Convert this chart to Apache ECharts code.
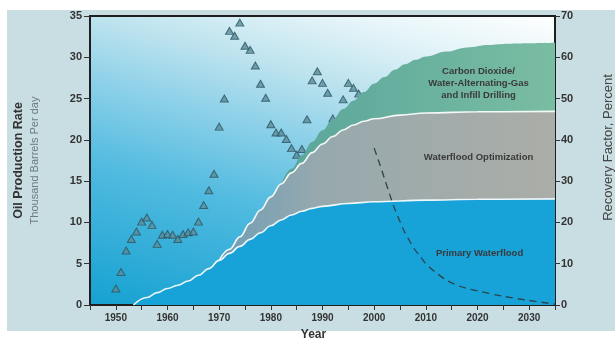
<!DOCTYPE html>
<html><head><meta charset="utf-8">
<script src="https://cdn.jsdelivr.net/npm/echarts@6/dist/echarts.min.js"></script>
<style>html,body{margin:0;padding:0;background:#ffffff;}#c{width:615px;height:343px;}</style>
</head><body><div id="c"></div>
<script>
// Oil production (thousand barrels per day) – triangles
const prodYears = [1950,1951,1952,1953,1954,1955,1956,1957,1958,1959,1960,1961,1962,1963,1964,1965,1966,1967,1968,1969,1970,1971,1972,1973,1974,1975,1976,1977,1978,1979,1980,1981,1982,1983,1984,1985,1986,1987,1988,1989,1990,1991,1992,1993,1994,1995,1996,1997,1998,1999,2000];
const prodRate  = [2.0,4.0,6.6,8.0,8.9,10.1,10.6,9.7,7.4,8.5,8.6,8.5,8.0,8.6,8.8,8.9,10.1,12.1,13.9,15.9,21.6,25.0,33.2,32.6,34.2,31.4,30.9,29.0,26.8,25.1,21.9,20.9,20.9,20.1,19.0,18.2,18.9,22.5,27.2,28.3,26.9,25.7,22.6,19.7,24.9,26.9,26.3,25.6,23.1,20.9,19.0];
// Forecast decline (dashed)
const declineYears = [2000,2001,2002,2003,2004,2005,2006,2007,2008,2009,2010,2012,2014,2016,2018,2020,2025,2030,2035];
const declineRate  = [19.0,17.2,15.3,13.4,11.6,10.1,8.7,7.6,6.6,5.8,5.0,3.9,3.0,2.4,2.0,1.7,1.05,0.55,0.1];
// Recovery factor (percent) – cumulative tops of the areas
const primaryYears = [1953.4,1956,1958,1960,1962,1964,1966,1968,1970,1972,1974,1976,1978,1980,1982,1984,1986,1988,1990,1995,2000,2010,2020,2035];
const primaryRF    = [0,1.8,3.0,4.0,4.8,5.8,7.2,8.8,10.8,12.5,14.2,15.9,17.5,19.2,20.6,21.8,22.7,23.4,23.9,24.6,25.0,25.4,25.6,25.7];
const optYears = [1970,1972,1974,1976,1978,1980,1982,1984,1986,1988,1990,1992,1994,1996,1998,2000,2005,2010,2020,2035];
const optRF    = [10.8,13.5,16.5,19.8,23.0,26.2,29.3,32.0,34.3,36.9,39.0,40.8,42.4,43.6,44.5,45.1,46.0,46.5,46.8,46.9];
const co2Years = [1982,1984,1986,1988,1990,1992,1994,1996,1998,2000,2002,2004,2006,2008,2010,2014,2018,2022,2026,2030,2035];
const co2RF    = [29.3,33.0,36.3,39.5,42.3,45.0,47.5,49.5,51.6,53.6,55.2,57.0,58.3,59.4,60.2,61.4,62.4,63.0,63.3,63.4,63.5];
const xTickLabels = ['1950','1960','1970','1980','1990','2000','2010','2020','2030'];
const leftTicks = [0,5,10,15,20,25,30,35];
const rightTicks = [0,10,20,30,40,50,60,70];
const areaLabels = ['Carbon Dioxide/\nWater-Alternating-Gas\nand Infill Drilling','Waterflood Optimization','Primary Waterflood'];

const zip = (a,b) => a.map((v,i)=>[v,b[i]]);
const F = 'Liberation Sans, Arial, sans-serif';
const chart = echarts.init(document.getElementById('c'), null, {renderer:'canvas'});
const lbl = (txt, coord) => ({
  symbol:'circle', symbolSize:1, itemStyle:{color:'rgba(0,0,0,0)'}, silent:true,
  label:{show:true, position:'inside', formatter:txt, color:'#3a3a3a', fontFamily:F, fontWeight:'bold', fontSize:9.5, lineHeight:12, align:'center'},
  data:[{coord:coord}]
});
chart.setOption({
  animation:false,
  backgroundColor:'#ffffff',
  graphic:[{type:'rect', z:-10, shape:{x:7,y:10,width:608,height:321}, style:{fill:'#c8dee2'}}],
  grid:{left:90,right:60,top:16,bottom:38,outerBoundsMode:'none',containLabel:false,show:true,borderColor:'#1e1e1e',borderWidth:2,
    backgroundColor:{type:'linear',x:0,y:1,x2:0.22,y2:-0.33,colorStops:[
      {offset:0,color:'#15a1d1'},{offset:0.35,color:'#52bbe0'},{offset:0.55,color:'#8ed1e9'},{offset:0.7,color:'#bde3ee'},{offset:0.85,color:'#e4f4f8'},{offset:1,color:'#ffffff'}]}},
  xAxis:{type:'value',min:1945,max:2035,interval:5,
    name:'Year',nameLocation:'middle',nameGap:24,
    nameTextStyle:{fontFamily:F,fontWeight:'bold',fontSize:12,color:'#333',padding:[0,18,0,0]},
    axisLine:{lineStyle:{color:'#1e1e1e',width:2}},
    axisTick:{show:true,length:5,lineStyle:{color:'#333',width:1}},
    splitLine:{show:false},
    axisLabel:{margin:8,fontFamily:F,fontWeight:'bold',fontSize:10,color:'#333',
      formatter:v=> xTickLabels.indexOf(String(v))>=0 ? String(v) : ''}},
  yAxis:[
    {type:'value',min:leftTicks[0],max:leftTicks[leftTicks.length-1],interval:5,position:'left',
      name:'{a|Oil Production Rate}\n{b|Thousand Barrels Per day}',nameLocation:'middle',nameRotate:90,nameGap:48,
      nameTextStyle:{align:'center',rich:{a:{fontFamily:F,fontWeight:'bold',fontSize:12.5,color:'#333',lineHeight:17,align:'center'},b:{fontFamily:F,fontSize:11,color:'#6e7c82',lineHeight:15,align:'center'}}},
      axisLine:{show:true,lineStyle:{color:'#1e1e1e',width:2}},
      axisTick:{show:true,length:6,lineStyle:{color:'#333'}},
      splitLine:{show:false},
      axisLabel:{margin:8,fontFamily:F,fontWeight:'bold',fontSize:11,color:'#333'}},
    {type:'value',min:rightTicks[0],max:rightTicks[rightTicks.length-1],interval:10,position:'right',
      name:'Recovery Factor, Percent',nameLocation:'middle',nameRotate:90,nameGap:47,
      nameTextStyle:{fontFamily:F,fontSize:13,color:'#444',padding:[0,0,0,26]},
      axisLine:{show:true,lineStyle:{color:'#1e1e1e',width:2}},
      axisTick:{show:true,length:5,lineStyle:{color:'#333'}},
      splitLine:{show:false},
      axisLabel:{margin:6,fontFamily:F,fontWeight:'bold',fontSize:11,color:'#333'}}
  ],
  series:[
    {type:'line',yAxisIndex:1,data:zip(co2Years,co2RF),smooth:0.4,smoothMonotone:'x',symbol:'none',
      lineStyle:{width:0},
      areaStyle:{opacity:1,color:{type:'linear',x:0,y:0,x2:1,y2:0,colorStops:[{offset:0,color:'#5aa59b'},{offset:1,color:'#79bda2'}]}},
      markPoint:lbl(areaLabels[0],[2020.2,53.8])},
    {type:'line',yAxisIndex:1,data:zip(optYears,optRF),smooth:0.4,smoothMonotone:'x',symbol:'none',
      lineStyle:{width:1.6,color:'#f4f8f6'},
      areaStyle:{opacity:1,color:{type:'linear',x:0,y:0,x2:1,y2:0,colorStops:[{offset:0,color:'#6f9fb6'},{offset:0.3,color:'#97a9ad'},{offset:1,color:'#abada7'}]}},
      markPoint:lbl(areaLabels[1],[2020.2,35.8])},
    {type:'line',yAxisIndex:1,data:zip(primaryYears,primaryRF),smooth:0.4,smoothMonotone:'x',symbol:'none',
      lineStyle:{width:1.6,color:'#eef7fa'},
      areaStyle:{opacity:1,color:'#17a2d8'},
      markPoint:lbl(areaLabels[2],[2020.4,12.4])},
    {type:'line',yAxisIndex:0,data:zip(declineYears,declineRate),smooth:0.3,symbol:'none',
      lineStyle:{width:1.3,color:'#2c444b',type:[7,5]}},
    {type:'scatter',yAxisIndex:0,data:zip(prodYears,prodRate),symbol:'triangle',symbolSize:[8,7],
      itemStyle:{color:'#5b8c9a',borderColor:'#2c5462',borderWidth:1}}
  ]
});
</script></body></html>
